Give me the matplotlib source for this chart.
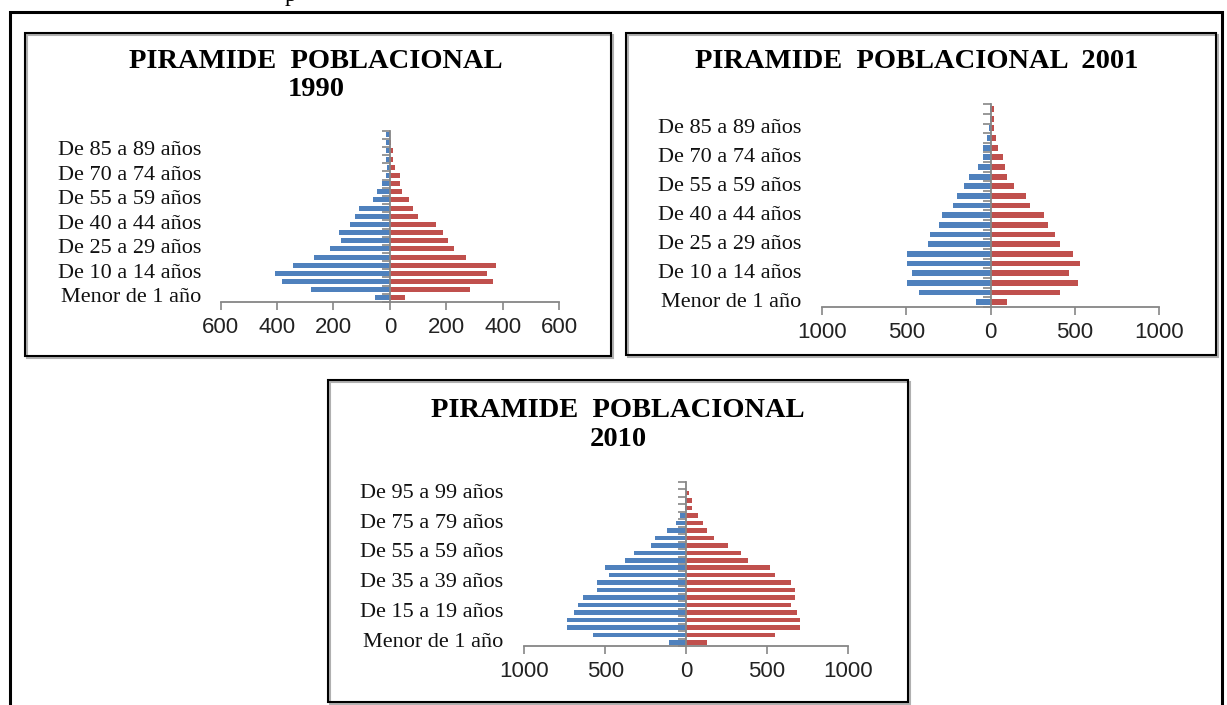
import matplotlib
matplotlib.use("Agg")
import matplotlib.pyplot as plt
import matplotlib.ticker as mticker
import matplotlib.transforms as mtransforms
from matplotlib.patches import Rectangle

W, H = 1227, 705

# --- data -------------------------------------------------------------
groups_21 = ["Menor de 1 año", "De 1 a 4 años", "De 5 a 9 años", "De 10 a 14 años",
             "De 15 a 19 años", "De 20 a 24 años", "De 25 a 29 años", "De 30 a 34 años",
             "De 35 a 39 años", "De 40 a 44 años", "De 45 a 49 años", "De 50 a 54 años",
             "De 55 a 59 años", "De 60 a 64 años", "De 65 a 69 años", "De 70 a 74 años",
             "De 75 a 79 años", "De 80 a 84 años", "De 85 a 89 años", "De 90 a 94 años",
             "De 95 a 99 años"]
groups_22 = groups_21 + ["De 100 y más años"]

men_1990 = [52, 279, 382, 408, 343, 270, 214, 174, 182, 141, 125, 108, 60, 45, 27,
            12, 9, 12, 12, 12, 15]
women_1990 = [52, 286, 367, 343, 376, 270, 229, 206, 189, 165, 100, 83, 68, 43, 35,
              35, 19, 12, 12, 3, 2]

men_2001 = [89, 427, 496, 468, 496, 496, 373, 360, 304, 290, 225, 198, 156, 130, 73,
            47, 47, 20, 8, 5, 3]
women_2001 = [101, 413, 520, 466, 532, 492, 413, 385, 344, 316, 237, 209, 140, 101, 87,
              73, 45, 32, 20, 20, 20]

men_2010 = [104, 577, 735, 735, 692, 665, 635, 548, 548, 477, 504, 377, 321, 219, 192,
            119, 62, 35, 8, 6, 3, 1]
women_2010 = [131, 550, 702, 702, 688, 648, 674, 674, 648, 550, 522, 385, 342, 259, 174,
              131, 105, 77, 36, 36, 20, 2]

BLUE = "#4F81BD"
RED = "#C0504D"
GREY = "#868686"

fig = plt.figure(figsize=(W / 100, H / 100), dpi=100)


def fx(px):
    return px / W


def fy(py):
    return 1 - py / H


def frame(x0, y0, x1, y1, lw=1.5):
    fig.patches.append(Rectangle((fx(x0 + 1.5), fy(y1 + 1.5)), fx(x1 - x0), (y1 - y0) / H,
                                 transform=fig.transFigure, fill=False,
                                 edgecolor="#b0b0b0", lw=1.5))
    fig.patches.append(Rectangle((fx(x0), fy(y1)), fx(x1 - x0), (y1 - y0) / H,
                                 transform=fig.transFigure, fill=False,
                                 edgecolor="black", lw=lw))


def pyramid(box, men, women, labels, lim, step, every, label_right):
    x0, y0, x1, y1 = box
    ax = fig.add_axes([fx(x0), fy(y1), fx(x1 - x0), (y1 - y0) / H])
    pos = range(len(labels))
    ax.barh(pos, [-v for v in men], height=0.6, color=BLUE)
    ax.barh(pos, women, height=0.6, color=RED)
    ax.set_xlim(-lim, lim)
    ax.set_ylim(-0.5, len(labels) - 0.5)
    ax.set_xticks(range(-lim, lim + 1, step))
    ax.xaxis.set_major_formatter(mticker.FuncFormatter(lambda v, p: f"{abs(int(v))}"))
    for lab in ax.get_xticklabels():
        lab.set_family("Liberation Sans")
        lab.set_fontsize(16)
        lab.set_color("#222222")
    ax.tick_params(axis="x", direction="out", length=6, color=GREY, width=1.2, pad=5)
    for s in ("top", "right"):
        ax.spines[s].set_visible(False)
    ax.spines["left"].set_position(("data", 0))
    for s in ("left", "bottom"):
        ax.spines[s].set_color(GREY)
        ax.spines[s].set_linewidth(1.3)
    ax.set_yticks([])
    ax.set_yticks([i - 0.5 for i in range(len(labels) + 1)], minor=True)
    ax.tick_params(axis="y", which="minor", direction="out", length=6, color=GREY, width=1.2)
    ax.patch.set_visible(False)
    trans = mtransforms.blended_transform_factory(fig.transFigure, ax.transData)
    for i in range(0, len(labels), every):
        ax.text(fx(label_right), i, labels[i], transform=trans, ha="right", va="center",
                family="Liberation Serif", fontsize=16, color="#111111")
    return ax


def title(cx, cy, text):
    fig.text(fx(cx), fy(cy), text, ha="center", va="center",
             family="Liberation Serif", weight="bold", fontsize=20.5)


# outer frame and stray text above it
fig.patches.append(Rectangle((fx(10), fy(720)), fx(1212), 708 / H, transform=fig.transFigure,
                             fill=False, edgecolor="black", lw=2.2))
fig.text(fx(285), fy(1), "p", family="Liberation Serif", fontsize=17, va="baseline")

# panel frames
frame(25, 33, 611, 356)
frame(626, 33, 1216, 355)
frame(328, 380, 908, 702)

# 1990
pyramid((220.7, 130.5, 559, 302), men_1990, women_1990, groups_21, 600, 200, 3, 201)
title(316, 62, "PIRAMIDE  POBLACIONAL")
title(316, 90, "1990")

# 2001
pyramid((822.3, 104.2, 1158.7, 307), men_2001, women_2001, groups_21, 1000, 500, 3, 801)
title(917, 62, "PIRAMIDE  POBLACIONAL  2001")

# 2010
pyramid((524.3, 482, 847.7, 646), men_2010, women_2010, groups_22, 1000, 500, 4, 503)
title(618, 411, "PIRAMIDE  POBLACIONAL")
title(618, 440, "2010")

fig.savefig("out.png", dpi=100)
